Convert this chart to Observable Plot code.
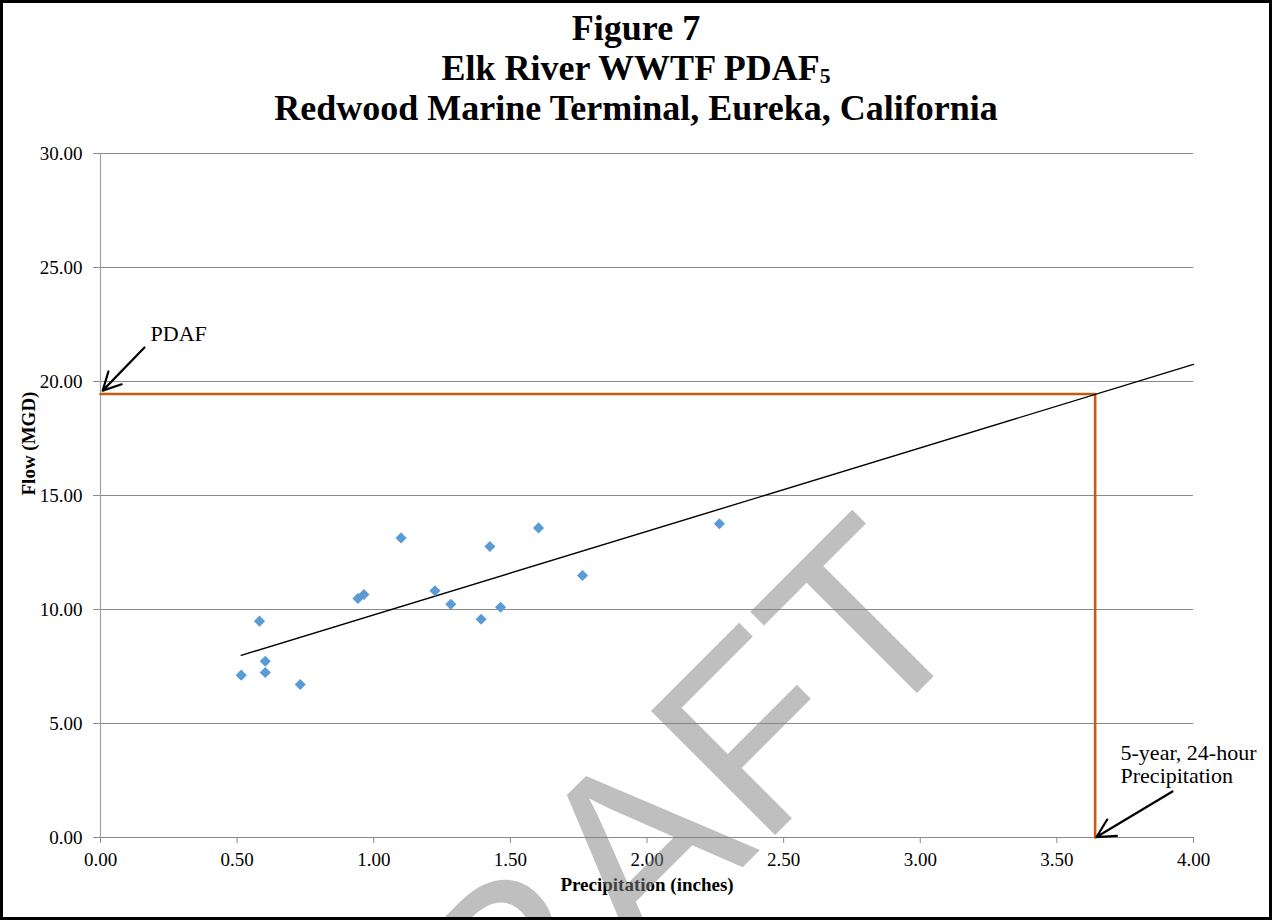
<!DOCTYPE html>
<html>
<head>
<meta charset="utf-8">
<script src="https://cdn.jsdelivr.net/npm/d3@7"></script>
<script src="https://cdn.jsdelivr.net/npm/@observablehq/plot@0.6"></script>
<style>
  html, body { margin: 0; padding: 0; background: #fff; }
  #chart { position: relative; width: 1272px; height: 920px; overflow: hidden; background: #fff;
           font-family: "Liberation Serif", "Times New Roman", serif; color: #000; }
  #plot { position: absolute; left: 0; top: 0; }
  #title { position: absolute; left: 0; top: 8px; width: 100%; text-align: center;
           font-weight: bold; font-size: 36px; line-height: 40px; }
  #title sub { font-size: 0.6em; vertical-align: baseline; position: relative; top: 0.15em; line-height: 0; }
  #watermark { position: absolute; left: 0; top: 0; pointer-events: none; }
  #frame { position: absolute; left: 0; top: 0; width: 1272px; height: 920px; box-sizing: border-box;
           border: 3px solid #000; pointer-events: none; }
</style>
</head>
<body>
<div id="chart">
  <div id="plot"></div>
  <div id="title">Figure 7<br>Elk River WWTF PDAF<sub>5</sub><br>Redwood Marine Terminal, Eureka, California</div>
  <svg id="watermark" width="1272" height="920">
    <text x="680" y="930" transform="rotate(-45 680 930)" text-anchor="middle"
          font-family="'Liberation Sans', Arial, sans-serif" font-size="255"
          fill="#808080" fill-opacity="0.5">DRAFT</text>
  </svg>
  <div id="frame"></div>
</div>
<script>
// Observed storm events: 24-hour precipitation (inches) and peak daily flow (MGD)
const precipitation = [0.515, 0.603, 0.603, 0.582, 0.731, 0.942, 0.964, 1.100,
                       1.224, 1.282, 1.393, 1.425, 1.464, 1.603, 1.764, 2.265];
const flow = [7.12, 7.24, 7.73, 9.49, 6.71, 10.48, 10.66, 13.14,
              10.82, 10.23, 9.57, 12.76, 10.10, 13.58, 11.49, 13.76];

// Linear trend, extended out to 4 inches
const trendPrecip = [0.515, 4.0];
const trendFlow = [7.99, 20.75];

// Design storm and the resulting peak daily average flow
const stormPrecip = 3.64;
const pdafFlow = 19.45;

// Axis ticks
const xTicks = [0, 0.5, 1, 1.5, 2, 2.5, 3, 3.5, 4];
const yTicks = [0, 5, 10, 15, 20, 25, 30];

// Callout text and arrows
const noteText = ["PDAF", "5-year, 24-hour", "Precipitation"];
const noteX = [0.183, 3.733, 3.733];
const noteY = [22.1, 3.73, 2.72];
const arrowFromX = [0.161, 3.923];
const arrowFromY = [21.49, 2.02];
const arrowToX = [0.008, 3.645];
const arrowToY = [19.6, 0.02];

const points = precipitation.map((x, i) => ({x, y: flow[i]}));
const trend = trendPrecip.map((x, i) => ({x, y: trendFlow[i]}));
const pdafPath = [
  {x: 0, y: pdafFlow},
  {x: stormPrecip, y: pdafFlow},
  {x: stormPrecip, y: 0}
];
const fmt = d3.format(".2f");
const gridColor = "#8a8a8a";

const chart = Plot.plot({
  width: 1272,
  height: 920,
  marginTop: 153,
  marginRight: 79,
  marginBottom: 83,
  marginLeft: 100,
  style: {
    fontFamily: '"Liberation Serif", "Times New Roman", serif',
    fontSize: "19px",
    background: "transparent",
    color: "#000",
    overflow: "visible"
  },
  x: {domain: [0, 4]},
  y: {domain: [0, 30]},
  marks: [
    Plot.gridY({ticks: yTicks, stroke: gridColor, strokeOpacity: 1, strokeWidth: 1}),
    Plot.ruleX([0], {stroke: "#a0a0a0", strokeWidth: 1.2}),
    Plot.axisY({ticks: yTicks, tickSize: 7, tickPadding: 11, tickFormat: fmt,
                stroke: gridColor, label: null}),
    Plot.axisX({ticks: xTicks, tickSize: 6, tickPadding: 9, tickFormat: fmt,
                stroke: gridColor, label: null}),
    Plot.line(pdafPath, {x: "x", y: "y", stroke: "#C55A11", strokeWidth: 2.6}),
    Plot.line(trend, {x: "x", y: "y", stroke: "#000", strokeWidth: 1.4}),
    Plot.dot(points, {x: "x", y: "y", symbol: "diamond2", r: 5, fill: "#5B9BD5", stroke: null}),
    Plot.arrow(arrowToX.map((_, i) => i), {
      x1: i => arrowFromX[i], y1: i => arrowFromY[i],
      x2: i => arrowToX[i], y2: i => arrowToY[i],
      stroke: "#000", strokeWidth: 2.2, headLength: 14, headAngle: 55
    }),
    Plot.text(noteText, {x: noteX, y: noteY, text: d => d, textAnchor: "start", fontSize: 22}),
    Plot.text(["Flow (MGD)"], {text: d => d, frameAnchor: "left", dx: -72, rotate: -90,
                               fontWeight: "bold", fontSize: 19}),
    Plot.text(["Precipitation (inches)"], {text: d => d, frameAnchor: "bottom", dy: 53,
                                           fontWeight: "bold", fontSize: 19})
  ]
});
document.getElementById("plot").appendChild(chart);
</script>
</body>
</html>
